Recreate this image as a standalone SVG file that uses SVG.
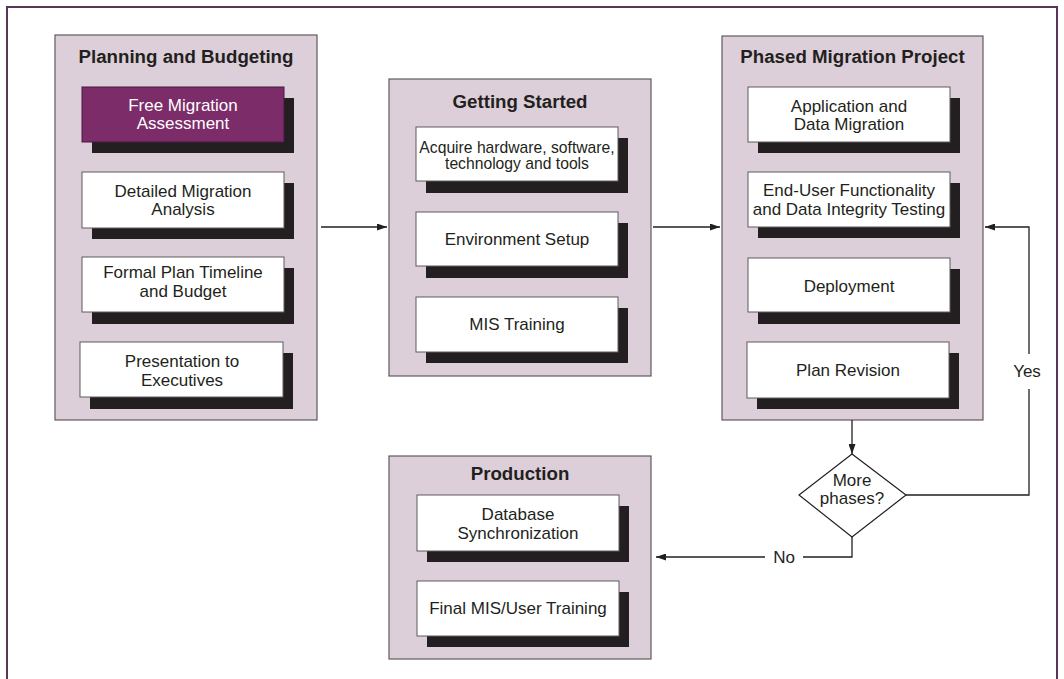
<svg xmlns="http://www.w3.org/2000/svg" width="1064" height="679" viewBox="0 0 1064 679">
<defs>
<style>
.frame{fill:none;stroke:#5a3558;stroke-width:2}
.grp{fill:#dccfd9;stroke:#5f5a5e;stroke-width:1.2}
.shd{fill:#231f20}
.box{fill:#ffffff;stroke:#5f5a5e;stroke-width:1}
.pbox{fill:#7b2c69;stroke:#4a1a40;stroke-width:1}
.ttl{font-family:"Liberation Sans",Arial,sans-serif;font-weight:bold;font-size:18.7px;fill:#231f20;text-anchor:middle}
.txt{font-family:"Liberation Sans",Arial,sans-serif;font-size:17px;fill:#231f20;text-anchor:middle}
.sm{font-size:15.7px}
.wt{fill:#ffffff}
.con{fill:none;stroke:#231f20;stroke-width:1.3}
</style>
<marker id="ah" markerUnits="userSpaceOnUse" markerWidth="10" markerHeight="7" refX="10" refY="3.5" orient="auto">
<path d="M0,0 L10,3.5 L0,7 z" fill="#231f20"/>
</marker>
</defs>
<rect width="1064" height="679" fill="#ffffff"/>
<path class="frame" d="M7,680 V7 H1057 V680"/>

<g id="planning">
<rect class="grp" x="55" y="35" width="262" height="385"/>
<text class="ttl" x="186" y="63">Planning and Budgeting</text>
</g>
<g id="free-migration">
<rect class="shd" x="92" y="98" width="202" height="55"/>
<rect class="pbox" x="82" y="87" width="202" height="55"/>
<text class="txt wt" x="183" y="111">Free Migration</text>
<text class="txt wt" x="183" y="129">Assessment</text>
</g>
<g id="detailed-analysis">
<rect class="shd" x="92" y="183" width="202" height="56"/>
<rect class="box" x="82" y="172" width="202" height="56"/>
<text class="txt" x="183" y="197">Detailed Migration</text>
<text class="txt" x="183" y="215">Analysis</text>
</g>
<g id="formal-plan">
<rect class="shd" x="92" y="268" width="202" height="56"/>
<rect class="box" x="82" y="257" width="202" height="55"/>
<text class="txt" x="183" y="278">Formal Plan Timeline</text>
<text class="txt" x="183" y="297">and Budget</text>
</g>
<g id="presentation">
<rect class="shd" x="90" y="353" width="203" height="56"/>
<rect class="box" x="80" y="342" width="203" height="55"/>
<text class="txt" x="182" y="367">Presentation to</text>
<text class="txt" x="182" y="386">Executives</text>
</g>

<g id="getting-started">
<rect class="grp" x="389" y="79" width="262" height="297"/>
<text class="ttl" x="520" y="108">Getting Started</text>
</g>
<g id="acquire">
<rect class="shd" x="426" y="138" width="202" height="55"/>
<rect class="box" x="416" y="127" width="202" height="54"/>
<text class="txt sm" x="517" y="153">Acquire hardware, software,</text>
<text class="txt sm" x="517" y="169">technology and tools</text>
</g>
<g id="environment">
<rect class="shd" x="426" y="223" width="202" height="55"/>
<rect class="box" x="416" y="212" width="202" height="54"/>
<text class="txt" x="517" y="245">Environment Setup</text>
</g>
<g id="mis-training">
<rect class="shd" x="426" y="308" width="202" height="55"/>
<rect class="box" x="416" y="297" width="202" height="55"/>
<text class="txt" x="517" y="330">MIS Training</text>
</g>

<g id="phased">
<rect class="grp" x="722" y="36" width="261" height="384"/>
<text class="ttl" x="852.5" y="63">Phased Migration Project</text>
</g>
<g id="app-data">
<rect class="shd" x="758" y="98" width="202" height="55"/>
<rect class="box" x="748" y="87" width="202" height="55"/>
<text class="txt" x="849" y="112">Application and</text>
<text class="txt" x="849" y="130">Data Migration</text>
</g>
<g id="end-user">
<rect class="shd" x="758" y="183" width="202" height="55"/>
<rect class="box" x="748" y="172" width="202" height="55"/>
<text class="txt" x="849" y="196">End-User Functionality</text>
<text class="txt" x="849" y="215">and Data Integrity Testing</text>
</g>
<g id="deployment">
<rect class="shd" x="758" y="269" width="202" height="55"/>
<rect class="box" x="748" y="258" width="202" height="54"/>
<text class="txt" x="849" y="292">Deployment</text>
</g>
<g id="plan-revision">
<rect class="shd" x="757" y="353" width="202" height="56"/>
<rect class="box" x="747" y="342" width="202" height="56"/>
<text class="txt" x="848" y="376">Plan Revision</text>
</g>

<g id="more-phases">
<path d="M852,454 L906,495 L852,537 L799,495 Z" fill="#ffffff" stroke="#231f20" stroke-width="1.2"/>
<text class="txt" x="852" y="486">More</text>
<text class="txt" x="852" y="504">phases?</text>
</g>

<g id="production">
<rect class="grp" x="389" y="456" width="262" height="203"/>
<text class="ttl" x="520" y="480">Production</text>
</g>
<g id="db-sync">
<rect class="shd" x="427" y="506" width="202" height="56"/>
<rect class="box" x="417" y="495" width="202" height="56"/>
<text class="txt" x="518" y="520">Database</text>
<text class="txt" x="518" y="539">Synchronization</text>
</g>
<g id="final-training">
<rect class="shd" x="427" y="592" width="202" height="55"/>
<rect class="box" x="417" y="581" width="202" height="55"/>
<text class="txt" x="518" y="614">Final MIS/User Training</text>
</g>

<g id="connectors">
<path class="con" d="M321,227 H387" marker-end="url(#ah)"/>
<path class="con" d="M653,227 H720" marker-end="url(#ah)"/>
<path class="con" d="M852,420 V454" marker-end="url(#ah)"/>
<path class="con" d="M906,495 H1029 V389"/>
<path class="con" d="M1029,354 V227 H985" marker-end="url(#ah)"/>
<path class="con" d="M852,537 V557 H803"/>
<path class="con" d="M765,557 H656" marker-end="url(#ah)"/>
<text class="txt" x="1027" y="377">Yes</text>
<text class="txt" x="784" y="563">No</text>
</g>
</svg>
